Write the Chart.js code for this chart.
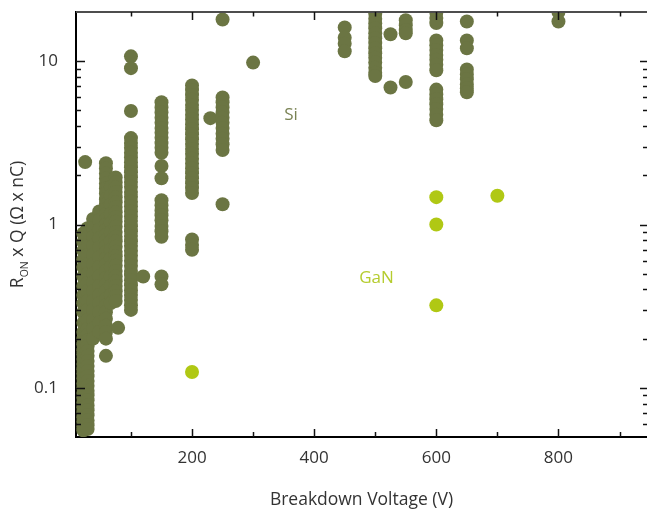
<!DOCTYPE html>
<html>
<head>
<meta charset="utf-8">
<script src="https://cdn.jsdelivr.net/npm/chart.js@4.4.1/dist/chart.umd.min.js"></script>
<style>
  html, body { margin: 0; padding: 0; background: #fff; }
  #wrap { width: 647px; height: 509px; }
</style>
</head>
<body>
<div id="wrap"><canvas id="chart" width="647" height="509"></canvas></div>
<script>
// Si devices, grouped by breakdown voltage (V) -> Ron x Q values (Ohm x nC)
const siColumnVoltage = [22, 25, 29, 38, 48, 59, 67, 75, 79, 100, 120, 150, 200, 230, 250, 300, 450, 500, 525, 550, 600, 650, 800];
const siColumnValues = [
  [0.88, 0.78, 0.69, 0.61, 0.55, 0.48, 0.42, 0.37, 0.33, 0.29, 0.25, 0.22, 0.2, 0.185, 0.17, 0.16, 0.15, 0.14, 0.13, 0.122, 0.114, 0.106, 0.1, 0.093, 0.087, 0.081, 0.076, 0.071, 0.066, 0.062, 0.058, 0.055],
  [2.41],
  [0.95, 0.84, 0.74, 0.65, 0.57, 0.5, 0.44, 0.39, 0.34, 0.3, 0.26, 0.23, 0.21, 0.195, 0.18, 0.168, 0.157, 0.146, 0.136, 0.127, 0.118, 0.11, 0.103, 0.096, 0.09, 0.084, 0.078, 0.073, 0.068, 0.063, 0.059, 0.056],
  [1.08, 0.95, 0.84, 0.74, 0.65, 0.57, 0.5, 0.44, 0.39, 0.34, 0.3, 0.26, 0.23, 0.2],
  [1.2, 1.06, 0.93, 0.82, 0.72, 0.63, 0.55, 0.48, 0.42, 0.37, 0.33, 0.29, 0.25, 0.22],
  [2.37, 2.2, 2.05, 1.91, 1.78, 1.66, 1.55, 1.43, 1.34, 1.25, 1.16, 1.08, 1.0, 0.93, 0.86, 0.8, 0.74, 0.68, 0.62, 0.57, 0.52, 0.47, 0.43, 0.39, 0.35, 0.32, 0.29, 0.265, 0.24, 0.22, 0.2, 0.157],
  [1.7, 1.5, 1.32, 1.16, 1.02, 0.9, 0.79, 0.7, 0.62, 0.55, 0.48, 0.42, 0.37, 0.33],
  [1.94, 1.81, 1.69, 1.58, 1.47, 1.37, 1.28, 1.19, 1.11, 1.04, 0.97, 0.9, 0.84, 0.79, 0.73, 0.68, 0.64, 0.6, 0.56, 0.52, 0.48, 0.45, 0.42, 0.39, 0.365, 0.34],
  [0.233],
  [10.7, 9.06, 4.95, 3.38, 3.16, 2.95, 2.75, 2.57, 2.4, 2.24, 2.09, 1.95, 1.82, 1.7, 1.58, 1.48, 1.38, 1.29, 1.2, 1.12, 1.05, 0.975, 0.91, 0.85, 0.79, 0.74, 0.69, 0.645, 0.6, 0.56, 0.52, 0.49, 0.455, 0.425, 0.395, 0.37, 0.345, 0.32, 0.3],
  [0.48],
  [5.6, 5.2, 4.85, 4.5, 4.2, 3.9, 3.65, 3.4, 3.15, 2.95, 2.75, 2.28, 1.92, 1.41, 1.31, 1.22, 1.14, 1.06, 0.98, 0.91, 0.84, 0.48, 0.43],
  [7.1, 6.65, 6.2, 5.8, 5.4, 5.05, 4.7, 4.4, 4.1, 3.83, 3.57, 3.33, 3.11, 2.9, 2.71, 2.53, 2.36, 2.2, 2.06, 1.92, 1.79, 1.67, 1.56, 0.81, 0.75, 0.7],
  [4.48],
  [18, 6.0, 5.6, 5.2, 4.85, 4.5, 4.2, 3.9, 3.6, 3.35, 3.1, 2.86, 1.33],
  [9.8],
  [16.1, 13.9, 12.8, 11.5],
  [19.5, 18.2, 17, 15.9, 14.8, 13.8, 12.9, 12, 11.2, 10.5, 9.8, 9.1, 8.5, 8.1],
  [14.6, 6.9],
  [17.8, 16.6, 15.5, 14.8, 7.45],
  [19.8, 18.4, 17.1, 13.4, 12.5, 11.7, 10.9, 10.2, 9.5, 8.8, 6.7, 6.25, 5.85, 5.45, 5.1, 4.7, 4.35],
  [17.5, 13.4, 12.0, 8.9, 8.3, 7.75, 7.2, 6.8, 6.45],
  [20, 17.5]
];

// GaN devices
const ganVoltage = [200, 600, 600, 600, 700];
const ganRonQ = [0.125, 1.47, 1.0, 0.32, 1.5];

// axis ticks
const xTickValues = [200, 400, 600, 800];
const xMinorTicks = [100, 300, 500, 700, 900];
const yTickValues = [0.1, 1, 10];
const yMinorTicks = [0.06, 0.07, 0.08, 0.09, 0.2, 0.3, 0.4, 0.5, 0.6, 0.7, 0.8, 0.9, 2, 3, 4, 5, 6, 7, 8, 9];

// where the two series names sit (data coords)
const siLabelAt = { x: 362, y: 4.68 };
const ganLabelAt = { x: 502, y: 0.468 };

const SI_COLOR = '#6b7543';
const GAN_COLOR = '#b0c814';
const FONT = "'Open Sans', 'Noto Sans', sans-serif";

const siPoints = [];
siColumnVoltage.forEach((v, i) => {
  siColumnValues[i].forEach(val => siPoints.push({ x: v, y: val }));
});
const ganPoints = ganVoltage.map((v, i) => ({ x: v, y: ganRonQ[i] }));

// chart.js pads the area for edge labels; the frame here runs to the canvas edge
const noPad = s => { s.paddingTop = 0; s.paddingBottom = 0; s.paddingLeft = 0; s.paddingRight = 0; };

// inward tick marks, top frame line, y title with subscript and series names
const frameTicks = {
  id: 'frameTicks',
  afterDraw(chart) {
    const { ctx, chartArea: a, scales: { x, y } } = chart;
    ctx.save();
    ctx.strokeStyle = '#4d4d4d';
    ctx.lineWidth = 2;
    ctx.beginPath();
    ctx.moveTo(a.left, a.top);
    ctx.lineTo(a.right, a.top);
    ctx.stroke();

    ctx.strokeStyle = '#111';
    ctx.lineWidth = 1.5;
    const line = (x1, y1, x2, y2) => {
      ctx.beginPath(); ctx.moveTo(x1, y1); ctx.lineTo(x2, y2); ctx.stroke();
    };
    xTickValues.forEach(v => {
      const px = Math.round(x.getPixelForValue(v)) + 0.5;
      line(px, a.bottom, px, a.bottom - 8);
      line(px, a.top, px, a.top + 8);
    });
    xMinorTicks.forEach(v => {
      const px = Math.round(x.getPixelForValue(v)) + 0.5;
      line(px, a.bottom, px, a.bottom - 5);
      line(px, a.top, px, a.top + 4.5);
    });
    yTickValues.forEach(v => {
      const py = Math.round(y.getPixelForValue(v)) + 0.5;
      line(a.left, py, a.left + 9, py);
      line(a.right, py, a.right - 7, py);
    });
    yMinorTicks.forEach(v => {
      const py = Math.round(y.getPixelForValue(v)) + 0.5;
      line(a.left, py, a.left + 5, py);
      line(a.right, py, a.right - 4, py);
    });

    // y axis title: R_ON x Q (Ω x nC)
    ctx.fillStyle = '#333';
    ctx.textBaseline = 'alphabetic';
    ctx.textAlign = 'left';
    const big = '17.5px ' + FONT, small = '10.5px ' + FONT;
    ctx.font = big;
    const wR = ctx.measureText('R').width;
    const wRest = ctx.measureText(' x Q (Ω x nC)').width;
    ctx.font = small;
    const wSub = ctx.measureText('ON').width;
    const total = wR + wSub + wRest;
    ctx.translate(23, (a.top + a.bottom) / 2);
    ctx.rotate(-Math.PI / 2);
    let cx = -total / 2;
    ctx.font = big; ctx.fillText('R', cx, 0); cx += wR;
    ctx.font = small; ctx.fillText('ON', cx, 5); cx += wSub;
    ctx.font = big; ctx.fillText(' x Q (Ω x nC)', cx, 0);
    ctx.setTransform(1, 0, 0, 1, 0, 0);

    // series names
    ctx.textAlign = 'center';
    ctx.textBaseline = 'middle';
    ctx.font = '17px ' + FONT;
    ctx.fillStyle = '#7a8354';
    ctx.fillText('Si', x.getPixelForValue(siLabelAt.x), y.getPixelForValue(siLabelAt.y));
    ctx.fillStyle = '#b5cc2e';
    ctx.fillText('GaN', x.getPixelForValue(ganLabelAt.x), y.getPixelForValue(ganLabelAt.y));
    ctx.restore();
  }
};

new Chart(document.getElementById('chart'), {
  type: 'scatter',
  data: {
    datasets: [
      {
        label: 'Si',
        data: siPoints,
        backgroundColor: SI_COLOR,
        borderWidth: 0,
        pointRadius: 7,
        clip: 0
      },
      {
        label: 'GaN',
        data: ganPoints,
        backgroundColor: GAN_COLOR,
        borderWidth: 0,
        pointRadius: 7,
        clip: 0
      }
    ]
  },
  options: {
    responsive: false,
    animation: false,
    layout: { autoPadding: false, padding: { top: 12, right: 0, left: 0, bottom: 0 } },
    plugins: { legend: { display: false }, tooltip: { enabled: false } },
    scales: {
      x: {
        type: 'linear',
        min: 10,
        max: 945,
        grid: { display: false, drawTicks: false },
        border: { display: true, color: '#000', width: 2 },
        afterBuildTicks: s => { s.ticks = xTickValues.map(v => ({ value: v })); },
        afterFit: s => { s.height = 72; noPad(s); },
        ticks: {
          autoSkip: false,
          maxRotation: 0,
          padding: 11,
          color: '#333',
          font: { family: FONT, size: 17 },
          callback: v => String(v)
        },
        title: {
          display: true,
          text: 'Breakdown Voltage (V)',
          color: '#333',
          font: { family: FONT, size: 17.5 },
          padding: { top: 4, bottom: -2 }
        }
      },
      y: {
        type: 'logarithmic',
        min: 0.05,
        max: 20,
        grid: { display: false, drawTicks: false },
        border: { display: true, color: '#000', width: 2 },
        afterBuildTicks: s => { s.ticks = yTickValues.map(v => ({ value: v })); },
        afterFit: s => { s.width = 76; noPad(s); },
        ticks: {
          autoSkip: false,
          padding: 18,
          color: '#333',
          font: { family: FONT, size: 17 },
          callback: v => String(v)
        }
      }
    }
  },
  plugins: [frameTicks]
});
</script>
</body>
</html>
